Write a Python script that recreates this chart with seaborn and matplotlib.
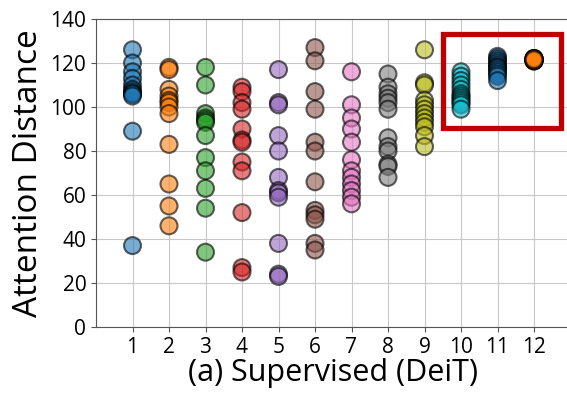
import pandas as pd
import seaborn as sns
import matplotlib.pyplot as plt
from matplotlib.patches import Rectangle

# attention distance per head (layers 1..12)
layer1 = [126, 120, 116, 113, 110, 108, 107, 106, 106, 105, 89, 37]
layer2 = [118, 117, 108, 105, 103, 102, 100, 97, 83, 65, 55, 46]
layer3 = [118, 110, 97, 95, 94, 93, 87, 77, 71, 63, 54, 34]
layer4 = [109, 107, 102, 99, 90, 85, 84, 75, 71, 52, 27, 25]
layer5 = [117, 102, 101, 87, 80, 68, 62, 61, 59, 38, 24, 23]
layer6 = [127, 121, 107, 99, 84, 80, 66, 53, 51, 49, 38, 35]
layer7 = [116, 101, 95, 90, 84, 76, 71, 68, 65, 62, 59, 56]
layer8 = [115, 109, 106, 104, 102, 99, 86, 82, 80, 74, 73, 68]
layer9 = [126, 111, 110, 103, 101, 99, 97, 95, 93, 91, 87, 82]
layer10 = [116, 114, 112, 110, 108, 106, 105, 104, 103, 102, 101, 99]
layer11 = [123, 122, 121, 120, 119, 118, 118, 117, 116, 115, 114, 112]
layer12 = [122, 122, 122, 121.5, 121.5, 121.5, 121, 121, 121, 121, 122, 121.5]

layers = [layer1, layer2, layer3, layer4, layer5, layer6,
          layer7, layer8, layer9, layer10, layer11, layer12]

rows = []
for i, vals in enumerate(layers):
    for v in vals:
        rows.append({"layer": i + 1, "dist": v})
df = pd.DataFrame(rows)

tab = sns.color_palette("tab10")
palette = {i + 1: tab[i % 10] for i in range(12)}

plt.rcParams['font.family'] = ['Open Sans', 'DejaVu Sans']
fig = plt.figure(figsize=(5.67, 3.93), dpi=100)
ax = fig.add_axes([96 / 567, 66 / 393, 474.5 / 567, 308 / 393])

sns.scatterplot(data=df, x="layer", y="dist", hue="layer", palette=palette,
                s=150, alpha=0.6, edgecolor="black", linewidth=1.5,
                legend=False, ax=ax, zorder=3)

# highlight the last layers
ax.add_patch(Rectangle((9.5, 90.5), 3.25, 42.5, fill=False,
                       edgecolor="#c00000", linewidth=3.8, zorder=4))

ax.set_xlim(0, 13)
ax.set_ylim(0, 140)
ax.set_xticks(range(1, 13))
ax.set_yticks(range(0, 141, 20))
ax.grid(True, color="#c8c8c8", linewidth=0.8, zorder=0)
ax.set_axisbelow(True)
ax.tick_params(labelsize=15, colors="#555555", labelcolor="black")
for s in ax.spines.values():
    s.set_color("#555555")
ax.set_xlabel("(a) Supervised (DeiT)", fontsize=22, labelpad=0)
ax.set_ylabel("Attention Distance", fontsize=24, labelpad=4)

fig.savefig("out.png", dpi=100)
